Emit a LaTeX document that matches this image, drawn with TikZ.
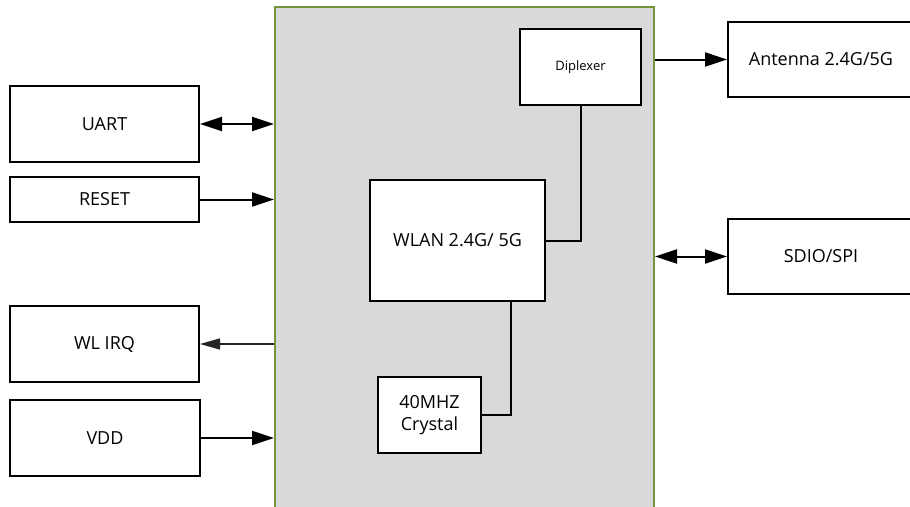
\documentclass[tikz,border=0pt]{standalone}
\usepackage{fontspec}
\setmainfont{Open Sans}
\usetikzlibrary{arrows.meta, positioning}
\definecolor{chipgray}{HTML}{D9D9D9}
\definecolor{chipgreen}{HTML}{77933C}

\begin{document}
\begin{tikzpicture}[x=1pt, y=-1pt]
    \tikzset{
        block/.style={
                draw=black, line width=2pt, fill=white, inner sep=0pt,
                align=center, font=\fontsize{18}{22}\selectfont
            },
        small block/.style={block, font=\fontsize{13}{16}\selectfont},
        chip/.style={
                draw=chipgreen, line width=2pt, fill=chipgray, inner sep=0pt
            },
        link/.style={line width=2pt},
        sig/.style={link, -{Triangle[length=22pt, width=14pt]}},
        bisig/.style={link, {Triangle[length=22pt, width=14pt]}-{Triangle[length=22pt, width=14pt]}},
        weak sig/.style={line width=1.4pt, draw=black!85, -{Triangle[length=20pt, width=11pt]}}
    }
    \useasboundingbox (0,0) rectangle (910,506);

    % module outline
    \node[chip, minimum width=379pt, minimum height=523pt] (chip) at (464.5,268.5) {};

    % outside world, left
    \node[block, minimum width=189pt, minimum height=76pt] (uart) at (104.5,124) {UART};
    \node[block, minimum width=189pt, minimum height=45pt] (reset) at (104.5,199.5) {RESET};
    \node[block, minimum width=189pt, minimum height=76pt] (irq) at (104.5,344) {WL IRQ};
    \node[block, minimum width=190pt, minimum height=76pt] (vdd) at (105,438) {VDD};

    % outside world, right
    \node[block, minimum width=186pt, minimum height=75pt] (antenna) at (821,59.5) {Antenna 2.4G/5G};
    \node[block, minimum width=186pt, minimum height=75pt] (sdio) at (821,256.5) {SDIO/SPI};

    % inside the module
    \node[small block, minimum width=121pt, minimum height=76pt] (diplexer) at (580.5,67) {Diplexer};
    \node[block, minimum width=175pt, minimum height=121pt] (wlan) at (457.5,240.5) {WLAN 2.4G/ 5G};
    \node[block, minimum width=103pt, minimum height=76pt] (crystal) at (429.5,415) {40MHZ\\Crystal};

    % signals
    \draw[bisig] (uart.east) -- (uart.east -| chip.west);
    \draw[sig] (reset.east) -- (reset.east -| chip.west);
    \draw[weak sig] (irq.east -| chip.west) -- (irq.east);
    \draw[sig] (vdd.east) -- (vdd.east -| chip.west);
    \draw[sig] (antenna.west -| chip.east) -- (antenna.west);
    \draw[bisig] (sdio.west -| chip.east) -- (sdio.west);

    \draw[link] (diplexer.south) |- (wlan.east);
    \draw[link] (crystal.east) -| ([xshift=53.5pt]wlan.south);
\end{tikzpicture}
\end{document}
